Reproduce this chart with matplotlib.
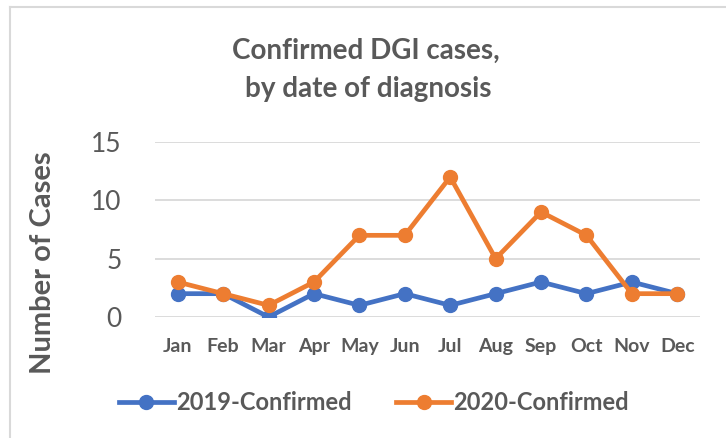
import matplotlib
matplotlib.use("Agg")
import matplotlib.pyplot as plt
from matplotlib.lines import Line2D

months = ["Jan", "Feb", "Mar", "Apr", "May", "Jun", "Jul", "Aug", "Sep", "Oct", "Nov", "Dec"]
cases_2019 = [2, 2, 0, 2, 1, 2, 1, 2, 3, 2, 3, 2]
cases_2020 = [3, 2, 1, 3, 7, 7, 12, 5, 9, 7, 2, 2]
yticks = [0, 5, 10, 15]

TXT = "#595959"
BLUE = "#4472C4"
ORANGE = "#ED7D31"
GRID = "#D9D9D9"
plt.rcParams['font.family'] = ['Lato', 'DejaVu Sans']

W, H = 726, 438
fig = plt.figure(figsize=(W / 100, H / 100), dpi=100)

# chart border
fig.add_artist(Line2D([10 / W, 10 / W], [0, 1 - 7 / H], color=GRID, lw=1.5, transform=fig.transFigure))
fig.add_artist(Line2D([10 / W, 1], [1 - 7 / H, 1 - 7 / H], color=GRID, lw=1.5, transform=fig.transFigure))

left, right, top, bottom = 155, 700, 142, 317
ax = fig.add_axes([left / W, 1 - bottom / H, (right - left) / W, (bottom - top) / H])

x = list(range(len(months)))
ax.plot(x, cases_2019, color=BLUE, lw=3.4, marker='o', ms=10, label="2019-Confirmed", zorder=3)
ax.plot(x, cases_2020, color=ORANGE, lw=3.4, marker='o', ms=10, label="2020-Confirmed", zorder=4)

ax.set_xlim(-0.5, len(months) - 0.5)
ax.set_ylim(0, 15)
ax.set_yticks(yticks)
ax.set_xticks(x)
ax.set_xticklabels(months, fontsize=14, fontweight='bold', color=TXT)
ax.tick_params(axis='y', labelsize=19, colors=TXT, length=0, pad=24)
ax.tick_params(axis='x', length=0, pad=15)
ax.grid(axis='y', color=GRID, lw=1.3)
ax.set_axisbelow(True)
for s in ax.spines.values():
    s.set_visible(False)

fig.text(43 / W, 1 - 263 / H, "Number of Cases", rotation=90, ha='center', va='center',
         fontsize=21, fontweight='bold', color=TXT)

fig.text(366 / W, 1 - 51 / H, "Confirmed DGI cases,", ha='center', va='center',
         fontsize=20, fontweight='bold', color=TXT)
fig.text(368 / W, 1 - 89 / H, "by date of diagnosis", ha='center', va='center',
         fontsize=20, fontweight='bold', color=TXT)

leg = fig.legend(loc='center', bbox_to_anchor=(374 / W, 1 - 403 / H), ncol=2, frameon=False,
                 fontsize=17, handlelength=2.3, columnspacing=1.9, handletextpad=0.1)
for t in leg.get_texts():
    t.set_color(TXT)
    t.set_fontweight('bold')

fig.savefig("out.png", dpi=100)
